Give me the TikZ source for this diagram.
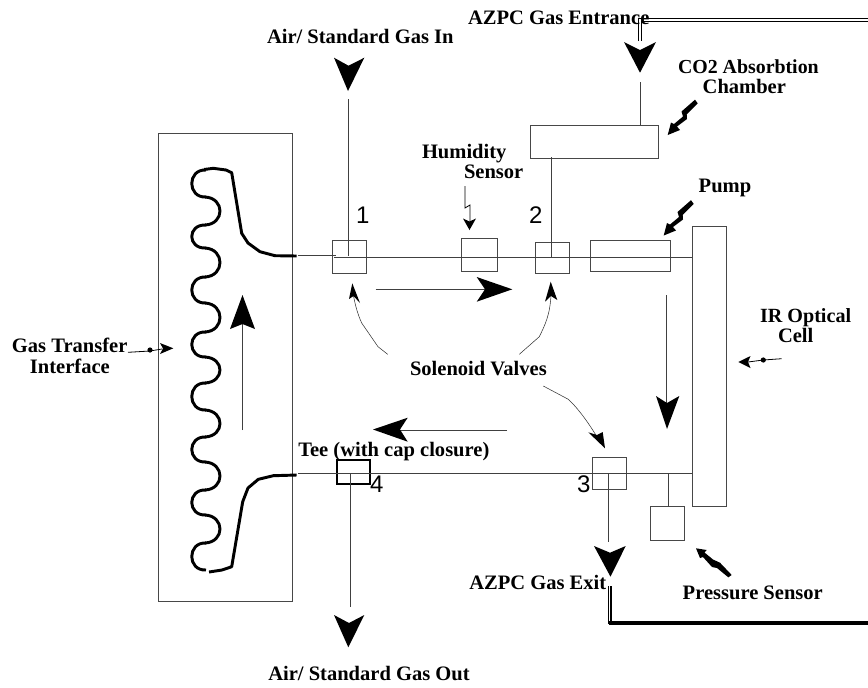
\documentclass[tikz,border=0pt]{standalone}
\usepackage{fontspec}
\setmainfont{Liberation Serif}
\newfontfamily\digitfont{Liberation Sans}
\newcommand\boxnode[6][]{\node[boxst,#1,minimum width={(#5-#3)*0.75pt},minimum height={(#6-#4)*0.75pt}] (#2) at ({(#3+#5)/2},{(#4+#6)/2}) {};}
\newcommand\lbl[5][15.4]{\node[lblst] (#2) at (#3,#4) {\fontsize{#1}{18}\selectfont #5};}
\newcommand\num[4]{\node[numst] (#1) at (#2,#3) {#4};}
\tikzset{
 boxst/.style={draw=black!72,line width=0.75pt,inner sep=0pt,outer sep=0pt,fill=none},
 lblst/.style={anchor=base west,inner sep=0pt,outer sep=0pt,font=\bfseries},
 numst/.style={anchor=base west,inner sep=0pt,outer sep=0pt,font=\digitfont\fontsize{18}{20}\selectfont},
 pipe/.style={draw=black!75,line width=0.65pt},
 thin curve/.style={draw=black!80,line width=0.4pt},
 coil/.style={draw=black,line width=2.2pt,line join=round},
 headfill/.style={fill=black,draw=none},
}
\begin{document}
\begin{tikzpicture}[x=0.75pt,y=-0.75pt]
\useasboundingbox (0,0) rectangle (868,687);
% boxes
\boxnode{gti}{158.5}{133}{292}{601}
\boxnode{vOne}{332}{240}{366}{273}
\boxnode{hum}{461}{238}{497}{271}
\boxnode{vTwo}{535}{242}{569}{273}
\boxnode{pump}{590}{240}{670.5}{271}
\boxnode{cell}{692}{226}{726}{506.5}
\boxnode{co2}{530.5}{125}{658.5}{158}
\boxnode{vThree}{592.7}{457.3}{626.5}{489}
\boxnode[line width=1.7pt,draw=black]{tee}{336.7}{460}{370}{484}
\boxnode{press}{650.3}{506.7}{684.3}{540.3}
% free ends
\coordinate (topL) at (298,255);
\coordinate (topM) at (334,257.5);
\coordinate (botL) at (298,473);
\coordinate (airIn) at (348,99);
\coordinate (azIn) at (640.5,82);
\coordinate (airOut) at (350,607);
\coordinate (azOut) at (608.7,542);
\coordinate (pTap) at (668.5,473);
% pipes
\draw[pipe] (topL) -- (336,255);
\draw[pipe] (topM) -- (topM -| cell.west);
\draw[pipe] (botL) -- (botL -| cell.west);
\draw[pipe] (airIn) -- (348,256);
\draw[pipe] (azIn) -- (azIn |- co2.north);
\draw[pipe] (551,157) -- (551,257.5);
\draw[pipe] (350,473) -- (airOut);
\draw[pipe] (608.7,473) -- (azOut);
\draw[pipe] (pTap) -- (pTap |- press.north);
% gas feed tubes
\coordinate (inA) at (640,41);
\coordinate (inB) at (868,20);
\draw[line width=0.85pt,double=white,double distance=0.85pt] (inA) -- (inA |- inB) -- (inB);
\coordinate (exA) at (611,586);
\coordinate (exB) at (868,623);
\draw[line width=0.5pt] (608.8,586) -- (608.8,624);
\draw[line width=1.5pt] (exA) -- (exA |- exB);
\draw[line width=3pt] (609,623) -- (exB);
% coil
\draw[coil] (296.7,256) -- (275,255.7) -- (260,251.7) -- (248,243) -- (241.7,233.3) -- (231.7,172.7) -- (226,170) -- (213.3,168.3) -- (204,169.5);
\draw[coil] (296.7,475) -- (273.3,475.7) -- (258.3,479.3) -- (248,488) -- (242.7,501.7) -- (231.7,566.7) -- (222,570) -- (209,572);
\foreach \a/\b in {170/197,225/248,277/303,332/357,383/410,437/462,490/515,543/570}
  \draw[coil] (206,\a) .. controls (187,{\a-1}) and (187,{\b+1}) .. (206,\b);
\foreach \a/\b in {197/225,248/277,303/332,357/383,410/437,462/490,515/543}
  \draw[coil] (205,\a) .. controls (225,{\a+1}) and (225,{\b-1}) .. (205,\b);
% big flow arrows
\draw[pipe,line width=0.6pt] (242.5,430) -- (242.5,320);
\fill[headfill] (242.5,295) -- (255,329) -- (242.5,324) -- (230,329) -- cycle;
\draw[pipe,line width=0.6pt] (375.7,289.3) -- (495,289.3);
\fill[headfill] (512.3,289.3) -- (476.7,301.7) -- (485,289.3) -- (476.7,277) -- cycle;
\draw[pipe,line width=0.6pt] (507,430) -- (395,430);
\fill[headfill] (373,429.5) -- (407.7,417.7) -- (400,429.5) -- (407.7,441.7) -- cycle;
\draw[pipe,line width=0.6pt] (666,295) -- (666,410);
\fill[headfill] (667,429) -- (679.3,396) -- (667,403) -- (656,396) -- cycle;
% in and out heads
\fill[headfill] (348,91) -- (364.3,57.7) -- (348.5,65.7) -- (334,57.7) -- cycle;
\fill[headfill] (640,72.7) -- (656,42) -- (640,50) -- (624,42) -- cycle;
\fill[headfill] (348.3,647.3) -- (364.3,615) -- (349,623) -- (334,615) -- cycle;
\fill[headfill] (610.5,576.7) -- (625.7,546) -- (610,552.7) -- (594,546) -- cycle;
% curved pointers
\draw[thin curve] (387.7,354.3) -- (378,346.7) -- (361.7,323) .. controls (358,315) and (355,305) .. (353,293);
\fill[headfill] (352.3,283.3) -- (360,303) -- (353.5,296) -- (349,299) -- cycle;
\draw[thin curve] (519.3,354.3) -- (539.3,336.7) .. controls (545,325) and (550,315) .. (551,295);
\fill[headfill] (550.7,281.7) -- (557.3,300) -- (551,296) -- (545,301.7) -- cycle;
\draw[thin curve] (543.3,386) -- (568.3,399.3) .. controls (578,408) and (590,425) .. (597,437);
\fill[headfill] (605,448.3) -- (602.7,432) -- (597,435) -- (588.3,432.3) -- cycle;
% small pointers
\draw[line width=0.6pt] (128,352.3) -- (150,351) -- (162,349);
\fill[headfill] (150,350) circle (2.6);
\fill[headfill] (173.3,348.3) -- (160,354) -- (163,348.5) -- (160,343) -- cycle;
\draw[line width=0.6pt] (781.7,358.7) -- (763.3,360) -- (748,362);
\fill[headfill] (763.3,360) circle (2.6);
\fill[headfill] (738.3,362) -- (750.5,356) -- (748,362) -- (750.5,368) -- cycle;
\draw[line width=0.6pt] (465,186) -- (465,208) -- (470,205) -- (470,222);
\fill[headfill] (469.5,230) -- (476,218.5) -- (469.5,221.5) -- (463,218.5) -- cycle;
% bolts
\fill[headfill] (695,99.7) -- (697.7,103.3) -- (686.7,114.3) -- (687,119) -- (677,126.5) -- (680,130) -- (667.7,135) -- (671,122.5) -- (674,124) -- (683,116.5) -- (681.5,111.5) -- cycle;
\fill[headfill,shift={(-4,100.5)}] (695,99.7) -- (697.7,103.3) -- (686.7,114.3) -- (687,119) -- (677,126.5) -- (680,130) -- (667.7,135) -- (671,122.5) -- (674,124) -- (683,116.5) -- (681.5,111.5) -- cycle;
\fill[headfill] (696,548.3) -- (706.7,550) -- (704.5,552.5) -- (713,559.5) -- (720,562.7) -- (731.7,575) -- (728.3,577.3) -- (717,568) -- (712,567) -- (703,557) -- (700,558) -- cycle;
% texts
\lbl{tAirIn}{267}{43}{Air/ Standard Gas In}
\lbl{tAzIn}{468}{24}{AZPC Gas Entrance}
\lbl[14.9]{tCoA}{678}{73}{CO2 Absorbtion}
\lbl{tCoB}{702.7}{93}{Chamber}
\lbl{tHumA}{422}{158}{Humidity}
\lbl{tHumB}{464}{178}{Sensor}
\lbl{tPump}{698.7}{192}{Pump}
\lbl[15.1]{tIrA}{760}{322.7}{IR Optical}
\lbl{tIrB}{778}{342.3}{Cell}
\lbl{tGasA}{12}{352.7}{Gas Transfer}
\lbl{tGasB}{30}{373.3}{Interface}
\lbl{tSol}{410}{375.7}{Solenoid Valves}
\lbl{tTee}{298.3}{456.7}{Tee (with cap closure)}
\lbl{tAzOut}{469.3}{589.3}{AZPC Gas Exit}
\lbl{tPress}{682.7}{599.3}{Pressure Sensor}
\lbl{tAirOut}{268.3}{680}{Air/ Standard Gas Out}
\num{nA}{356}{223}{1}
\num{nB}{529}{223}{2}
\num{nC}{577}{492.7}{3}
\num{nD}{370}{492.7}{4}
\end{tikzpicture}
\end{document}
